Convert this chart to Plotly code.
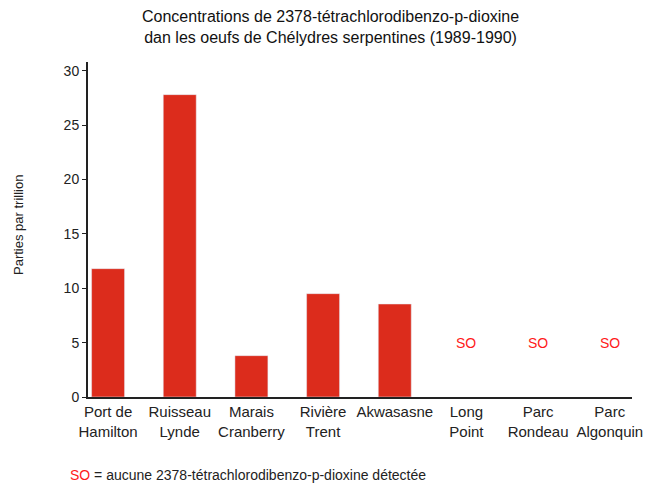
import plotly.graph_objects as go

# data
sites = ["Port de<br>Hamilton", "Ruisseau<br>Lynde", "Marais<br>Cranberry", "Rivière<br>Trent",
         "Akwasasne", "Long<br>Point", "Parc<br>Rondeau", "Parc<br>Algonquin"]
conc = [11.8, 27.8, 3.8, 9.5, 8.55, None, None, None]
not_detected = ["Long<br>Point", "Parc<br>Rondeau", "Parc<br>Algonquin"]

font = "Liberation Sans, Arial, sans-serif"
red_bar = "#DC2C1C"

fig = go.Figure()
fig.add_trace(go.Bar(x=sites, y=conc, marker_color=red_bar, width=0.46))

# "SO" labels for sites with no detection
for s in not_detected:
    fig.add_annotation(x=s, y=5, text="SO", showarrow=False,
                       font=dict(family=font, size=14, color="#FF1A1A"))

# title as an annotation (easier to place)
fig.add_annotation(
    xref="paper", yref="paper", x=0.445, y=1.105, xanchor="center", yanchor="middle",
    text="Concentrations de 2378-tétrachlorodibenzo-p-dioxine<br>dan les oeufs de Chélydres serpentines (1989-1990)",
    showarrow=False, font=dict(family=font, size=16, color="#111"))

fig.add_annotation(
    xref="paper", yref="paper", x=-0.037, y=-0.233, xanchor="left", yanchor="middle",
    text="<span style='color:#FF1A1A'>SO</span> = aucune 2378-tétrachlorodibenzo-p-dioxine détectée",
    showarrow=False, font=dict(family=font, size=14, color="#222"))

# y axis title placed by hand
fig.add_annotation(
    xref="paper", yref="paper", x=-0.129, y=0.513, xanchor="center", yanchor="middle",
    text="Parties par trillion", textangle=-90, showarrow=False,
    font=dict(family=font, size=13, color="#222"))

# page body has an 8px margin, so the figure is drawn a bit smaller
fig.update_layout(
    width=649, height=482,
    margin=dict(l=80, r=25, t=54, b=93),
    plot_bgcolor="white", paper_bgcolor="white",
    showlegend=False,
    font=dict(family=font, color="#111"),
)
fig.update_xaxes(type="category", range=[-0.28, 7.31], showline=True, linecolor="#222", linewidth=2,
                 ticks="", tickfont=dict(size=15, color="#222"), showgrid=False, automargin=False)
fig.update_yaxes(range=[0, 30.8], tickvals=[0, 5, 10, 15, 20, 25, 30], showline=True,
                 linecolor="#222", linewidth=2, ticks="outside", ticklen=4, tickcolor="#222",
                 tickfont=dict(size=14, color="#222"), showgrid=False, zeroline=False,
                 automargin=False)

fig.write_html("out.html")
